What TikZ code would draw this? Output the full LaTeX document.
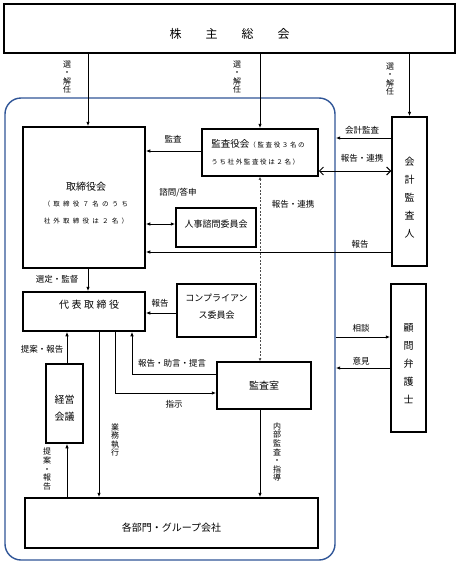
\documentclass[tikz,border=0pt]{standalone}
\usepackage{fontspec}
\setmainfont{Noto Sans CJK JP}
\newfontfamily\spcA[LetterSpace=50]{Noto Sans CJK JP}
\newfontfamily\spcB[LetterSpace=25]{Noto Sans CJK JP}
\newfontfamily\spcC[LetterSpace=25]{Noto Sans CJK JP}
\usetikzlibrary{arrows.meta,calc}
\definecolor{grpblue}{RGB}{47,85,151}
\tikzset{
  box/.style={draw, line width=1.5pt, inner sep=0pt},
  btext/.style={inner sep=0pt, align=center, font=\fontsize{10}{17}\selectfont},
  conn/.style={line width=1pt},
  arr/.style={conn, -{Latex[length=4.5pt,width=3.5pt]}},
  darr/.style={conn, {Latex[length=4.5pt,width=3.5pt]}-{Latex[length=4.5pt,width=3.5pt]}},
  barb/.style={conn, {Straight Barb[length=4pt,width=8pt,line width=1pt]}-{Straight Barb[length=4pt,width=8pt,line width=1pt]}},
  dasharr/.style={line width=0.9pt, black!70, dash pattern=on 2pt off 1.5pt, {Latex[length=3pt,width=3pt]}-{Latex[length=3pt,width=3pt]}},
  lbl/.style={inner sep=0pt, font=\fontsize{8.5}{10}\selectfont},
  vlbl/.style={inner sep=0pt, align=center, font=\fontsize{8}{8.6}\selectfont},
}
\begin{document}
\begin{tikzpicture}[x=1pt,y=-1pt]
\useasboundingbox (0,0) rectangle (460,565);
% group frame
\node[draw=grpblue, line width=1.4pt, rounded corners=16pt, minimum width=330pt, minimum height=462pt, inner sep=0pt] (grp) at (170,329) {};
% x / y helper coordinates
\coordinate (x88) at (88,0);
\coordinate (x260) at (260,0);
\coordinate (x132) at (132,0);
\coordinate (x115) at (115,0);
\coordinate (x99) at (99,0);
\coordinate (x67) at (67,0);
\coordinate (y138) at (0,138);
\coordinate (y151) at (0,151);
\coordinate (y171) at (0,171);
\coordinate (y224) at (0,224);
\coordinate (y252) at (0,252);
\coordinate (y313) at (0,313);
\coordinate (y374) at (0,374);
\coordinate (y393) at (0,393);
\coordinate (y337) at (0,337);
\coordinate (y368) at (0,368);
% boxes
\node[box, line width=1.6pt, minimum width=451pt, minimum height=49pt] (top) at (229.5,28.5) {};
\node[inner sep=0pt, font=\fontsize{12}{14}\selectfont] (topt) at (229.5,34) {株\hspace{24pt}主\hspace{24pt}総\hspace{24pt}会};

\node[box, minimum width=122pt, minimum height=141pt] (tb) at (84,197.5) {};
\node[btext, font=\fontsize{10}{16.5}\selectfont] (tbt) at (86,203) {取締役会\\{\fontsize{6.5}{8}\spcA （取締役７名のうち}\\{\fontsize{6.5}{8}\spcA 社外取締役は２名）}};

\node[box, minimum width=116pt, minimum height=47pt] (ka) at (260,152.5) {};
\node[btext, align=left, font=\fontsize{9.5}{17}\selectfont] (kat) at (258,152) {監査役会{\fontsize{6.5}{8}\spcB （監査役３名の}\\{\fontsize{6.5}{8}\spcB うち社外監査役は２名）}};

\node[box, minimum width=80pt, minimum height=39pt] (jj) at (216,227.5) {};
\node[btext, font=\fontsize{9}{11}\selectfont] (jjt) at (216,224) {人事諮問委員会};

\node[box, minimum width=35pt, minimum height=149pt] (kk) at (409.5,191.5) {};
\node[btext, font=\fontsize{10}{18}\selectfont] (kkt) at (409.5,198) {会\\計\\監\\査\\人};

\node[box, minimum width=122pt, minimum height=39pt] (dt) at (84,311.5) {};
\node[btext] (dtt) at (89,305) {{\spcC 代表取締役}};

\node[box, minimum width=79pt, minimum height=53pt] (cp) at (216.5,310.5) {};
\node[btext, font=\fontsize{9}{17}\selectfont] (cpt) at (216.5,306.5) {コンプライアン\\ス委員会};

\node[box, minimum width=94pt, minimum height=47pt] (ks) at (264,385.5) {};
\node[btext] (kst) at (264,386) {監査室};

\node[box, minimum width=37pt, minimum height=79pt] (km) at (64.5,403.5) {};
\node[btext] (kmt) at (64.5,408.5) {経営\\会議};

\node[box, minimum width=293pt, minimum height=50pt] (bm) at (171.5,523) {};
\node[btext] (bmt) at (171.5,528) {各部門・グループ会社};

\node[box, minimum width=35pt, minimum height=148pt] (kb) at (408.5,358) {};
\node[btext, font=\fontsize{10}{18}\selectfont] (kbt) at (408.5,363.5) {顧\\問\\弁\\護\\士};

% connectors
\draw[arr] (top.south -| x88) -- (tb.north -| x88);
\draw[arr] (top.south -| ka.north) -- (ka.north);
\draw[arr] (top.south -| kk.north) -- (kk.north);
\draw[arr] (ka.west |- y151) -- (tb.east |- y151);
\draw[darr] (tb.east |- y224) -- (jj.west |- y224);
\draw[arr] (kk.west |- y252) -- (tb.east |- y252);
\draw[arr] (kk.west |- y138) -- (grp.east |- y138);
\draw[barb] (ka.east |- y171) -- (kk.west |- y171);
\draw[dasharr] (ka.south) -- (ka.south |- ks.north);
\draw[arr] (tb.south -| x88) -- (dt.north -| x88);
\draw[arr] (cp.west |- y313) -- (dt.east |- y313);
\draw[arr] (ks.west |- y374) -| (dt.south -| x132);
\draw[arr] (dt.south -| x115) |- (ks.west |- y393);
\draw[arr] (dt.south -| x99) -- (bm.north -| x99);
\draw[arr] (km.north -| x67) -- (dt.south -| x67);
\draw[arr] (bm.north -| x67) -- (km.south -| x67);
\draw[arr] (ks.south -| x260) -- (bm.north -| x260);
\draw[arr] (grp.east |- y337) -- (kb.west |- y337);
\draw[arr] (kb.west |- y368) -- (grp.east |- y368);

% labels
\node[vlbl] (l1) at (67,77) {選\\・\\解\\任};
\node[vlbl] (l2) at (237,77) {選\\・\\解\\任};
\node[vlbl] (l3) at (390,79) {選\\・\\解\\任};
\node[lbl] (l4) at (173,139) {監査};
\node[lbl] (l5) at (178,193) {諮問/答申};
\node[lbl] (l6) at (362,130) {会計監査};
\node[lbl] (l7) at (362,158) {報告・連携};
\node[lbl] (l8) at (293,204) {報告・連携};
\node[lbl] (l9) at (360,244) {報告};
\node[lbl] (l10) at (57,279) {選定・監督};
\node[lbl] (l11) at (160,303) {報告};
\node[lbl] (l12) at (42,349) {提案・報告};
\node[lbl] (l13) at (172,363) {報告・助言・提言};
\node[lbl] (l14) at (174,404) {指示};
\node[lbl] (l15) at (361,328) {相談};
\node[lbl] (l16) at (361,361) {意見};
\node[vlbl] (l17) at (115,440) {業\\務\\執\\行};
\node[vlbl] (l18) at (277,452) {内\\部\\監\\査\\・\\指\\導};
\node[vlbl] (l19) at (47,469) {提\\案\\・\\報\\告};
\end{tikzpicture}
\end{document}
